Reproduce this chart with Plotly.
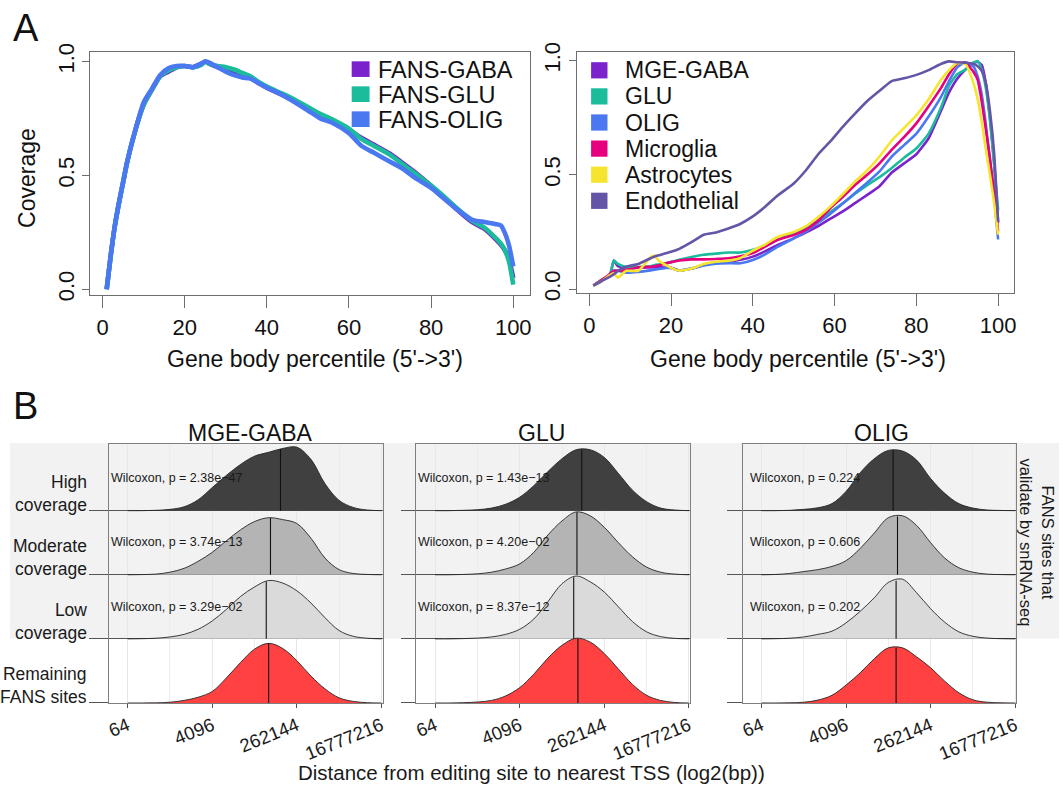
import numpy as np
import plotly.graph_objects as go

W, H = 1063, 797
FONT = "Liberation Sans, Arial, Helvetica, sans-serif"

# ---------------- Panel A, left: FANS gene-body coverage ----------------
PCT_FANS = [1, 2, 3, 4, 5, 6, 8, 10, 12, 14, 16, 18, 20, 22, 24, 25, 26, 28, 30, 32, 34, 36, 38, 40,
            43, 46, 50, 53, 56, 60, 63, 66, 70, 73, 76, 80, 83, 86, 90, 93, 96, 97, 98, 99, 100]
FANS_GABA = [0.00, 0.15, 0.28, 0.38, 0.47, 0.56, 0.70, 0.81, 0.875, 0.935, 0.955, 0.975, 0.98, 0.975, 0.99,
             1.00, 0.99, 0.975, 0.965, 0.955, 0.945, 0.93, 0.905, 0.885,
             0.86, 0.835, 0.795, 0.765, 0.74, 0.70, 0.665, 0.635, 0.595, 0.555, 0.515, 0.455, 0.405, 0.355,
             0.295, 0.265, 0.215, 0.195, 0.17, 0.13, 0.05]
FANS_GLU = [0.00, 0.15, 0.28, 0.38, 0.47, 0.56, 0.70, 0.81, 0.875, 0.935, 0.96, 0.975, 0.98, 0.975, 0.985,
            1.00, 0.99, 0.98, 0.975, 0.965, 0.95, 0.935, 0.91, 0.89,
            0.865, 0.84, 0.80, 0.77, 0.745, 0.705, 0.66, 0.63, 0.59, 0.55, 0.51, 0.455, 0.41, 0.36,
            0.30, 0.27, 0.22, 0.20, 0.17, 0.12, 0.02]
FANS_OLIG = [0.00, 0.15, 0.28, 0.38, 0.47, 0.56, 0.70, 0.82, 0.88, 0.94, 0.97, 0.98, 0.98, 0.975, 0.99,
             1.00, 0.995, 0.975, 0.955, 0.94, 0.93, 0.925, 0.905, 0.885,
             0.86, 0.83, 0.785, 0.75, 0.73, 0.685, 0.63, 0.60, 0.56, 0.53, 0.49, 0.445, 0.40, 0.355,
             0.305, 0.295, 0.285, 0.28, 0.245, 0.19, 0.10]
FANS_NAMES = ["FANS-GABA", "FANS-GLU", "FANS-OLIG"]

# ---------------- Panel A, right: snRNA-seq gene-body coverage ----------------
PCT_SN = [1, 3, 5, 6, 7, 9, 12, 15, 16, 17, 20, 22, 25, 28, 31, 34, 37, 40, 43, 46, 50, 53, 56, 59,
          62, 65, 68, 71, 74, 77, 80, 83, 86, 88, 90, 92, 94, 95, 96, 97, 98, 99, 100]
SN_MGE_GABA = [0.015, 0.04, 0.06, 0.125, 0.10, 0.095, 0.095, 0.095, 0.095, 0.095, 0.093, 0.081, 0.09,
               0.105, 0.117, 0.12, 0.128, 0.142, 0.165, 0.192, 0.222, 0.248, 0.276, 0.308, 0.34, 0.376,
               0.412, 0.45, 0.51, 0.55, 0.59, 0.66, 0.779, 0.86, 0.92, 0.96, 0.99, 0.993, 0.98, 0.90,
               0.75, 0.56, 0.29]
SN_GLU = [0.015, 0.04, 0.06, 0.125, 0.11, 0.097, 0.097, 0.10, 0.105, 0.108, 0.118, 0.128, 0.14, 0.15,
          0.155, 0.16, 0.16, 0.172, 0.192, 0.216, 0.245, 0.27, 0.30, 0.338, 0.375, 0.417, 0.455, 0.49,
          0.53, 0.575, 0.615, 0.68, 0.793, 0.89, 0.94, 0.96, 0.99, 0.997, 0.96, 0.88, 0.74, 0.55, 0.345]
SN_OLIG = [0.015, 0.035, 0.065, 0.08, 0.08, 0.072, 0.075, 0.082, 0.085, 0.088, 0.093, 0.081, 0.09,
           0.103, 0.111, 0.113, 0.113, 0.127, 0.152, 0.185, 0.222, 0.252, 0.29, 0.33, 0.375, 0.42,
           0.466, 0.515, 0.58, 0.63, 0.68, 0.755, 0.84, 0.91, 0.97, 0.992, 0.973, 0.93, 0.85, 0.72,
           0.565, 0.41, 0.217]
SN_MICROGLIA = [0.015, 0.04, 0.065, 0.08, 0.08, 0.083, 0.095, 0.098, 0.10, 0.104, 0.118, 0.125, 0.13,
                0.13, 0.132, 0.135, 0.144, 0.158, 0.186, 0.215, 0.237, 0.26, 0.30, 0.355, 0.403, 0.455,
                0.50, 0.55, 0.61, 0.665, 0.725, 0.80, 0.879, 0.94, 0.986, 0.99, 0.95, 0.915, 0.82, 0.70,
                0.57, 0.42, 0.252]
SN_ASTROCYTES = [0.015, 0.035, 0.06, 0.07, 0.05, 0.08, 0.08, 0.14, 0.145, 0.124, 0.093, 0.081, 0.09,
                 0.11, 0.12, 0.124, 0.136, 0.168, 0.195, 0.228, 0.25, 0.275, 0.315, 0.362, 0.415, 0.47,
                 0.52, 0.58, 0.65, 0.705, 0.76, 0.83, 0.915, 0.958, 0.989, 0.985, 0.90, 0.83, 0.73,
                 0.61, 0.50, 0.38, 0.238]
SN_ENDOTHELIAL = [0.015, 0.035, 0.053, 0.065, 0.08, 0.098, 0.11, 0.135, 0.143, 0.148, 0.163, 0.176,
                  0.205, 0.238, 0.248, 0.265, 0.286, 0.318, 0.36, 0.408, 0.462, 0.52, 0.59, 0.647, 0.71,
                  0.768, 0.823, 0.868, 0.91, 0.922, 0.937, 0.958, 0.985, 0.996, 0.992, 0.99, 0.985,
                  0.975, 0.955, 0.90, 0.78, 0.60, 0.295]
SN_NAMES = ["MGE-GABA", "GLU", "OLIG", "Microglia", "Astrocytes", "Endothelial"]

PURPLE, GREEN, BLUE = "#7a22cc", "#1abc9c", "#4a78f0"
MAGENTA, YELLOW, SLATE = "#e6007e", "#f5e52f", "#6455a6"
FANS_COLORS = [PURPLE, GREEN, BLUE]
SN_COLORS = [PURPLE, GREEN, BLUE, MAGENTA, YELLOW, SLATE]

# ---------------- Panel B: ridgeline densities of log2 distance to TSS ----------------
LOG2_GRID = list(range(6, 25))
LOG2_TICKS = [6, 12, 18, 24]
ROW_LABELS = ["High<br>coverage", "Moderate<br>coverage", "Low<br>coverage", "Remaining<br>FANS sites"]
FACETS = ["MGE-GABA", "GLU", "OLIG"]

MGE_HIGH = [0, 0, 0.005, 0.02, 0.06, 0.17, 0.36, 0.55, 0.72, 0.85, 0.91, 0.97, 0.99, 0.80, 0.42, 0.16, 0.05, 0.01, 0]
MGE_MOD = [0, 0.003, 0.01, 0.04, 0.10, 0.21, 0.35, 0.53, 0.70, 0.83, 0.89, 0.86, 0.80, 0.57, 0.26, 0.08, 0.02, 0.005, 0]
MGE_LOW = [0, 0.003, 0.01, 0.03, 0.07, 0.15, 0.28, 0.46, 0.66, 0.81, 0.91, 0.87, 0.75, 0.56, 0.33, 0.13, 0.04, 0.01, 0]
MGE_REST = [0, 0, 0.002, 0.012, 0.04, 0.09, 0.18, 0.39, 0.63, 0.84, 0.93, 0.85, 0.66, 0.42, 0.22, 0.08, 0.025, 0.005, 0]

GLU_HIGH = [0, 0, 0.005, 0.015, 0.04, 0.10, 0.21, 0.39, 0.61, 0.81, 0.95, 0.95, 0.83, 0.58, 0.32, 0.14, 0.04, 0.01, 0]
GLU_MOD = [0, 0, 0.005, 0.015, 0.04, 0.09, 0.17, 0.35, 0.62, 0.84, 0.98, 0.92, 0.74, 0.50, 0.28, 0.12, 0.04, 0.01, 0]
GLU_LOW = [0, 0, 0.004, 0.012, 0.03, 0.07, 0.15, 0.31, 0.58, 0.86, 0.98, 0.89, 0.73, 0.50, 0.27, 0.11, 0.035, 0.008, 0]
GLU_REST = [0, 0, 0.005, 0.015, 0.04, 0.11, 0.24, 0.45, 0.70, 0.90, 1.01, 0.95, 0.77, 0.53, 0.29, 0.12, 0.04, 0.008, 0]

OLIG_HIGH = [0, 0, 0.005, 0.02, 0.045, 0.11, 0.30, 0.59, 0.81, 0.94, 0.93, 0.79, 0.50, 0.27, 0.11, 0.04, 0.01, 0.003, 0]
OLIG_MOD = [0, 0.005, 0.02, 0.05, 0.08, 0.13, 0.22, 0.41, 0.65, 0.89, 0.92, 0.77, 0.50, 0.26, 0.11, 0.04, 0.01, 0.003, 0]
OLIG_LOW = [0, 0.003, 0.01, 0.03, 0.07, 0.12, 0.25, 0.43, 0.64, 0.88, 0.93, 0.72, 0.47, 0.26, 0.11, 0.04, 0.012, 0.003, 0]
OLIG_REST = [0, 0, 0.003, 0.012, 0.045, 0.12, 0.28, 0.47, 0.69, 0.86, 0.86, 0.72, 0.55, 0.34, 0.16, 0.05, 0.012, 0.003, 0]

# medians (log2 bp) per row: High, Moderate, Low, Remaining
MGE_MEDIANS = [16.84, 16.13, 15.83, 16.0]
GLU_MEDIANS = [16.4, 16.06, 15.83, 16.13]
OLIG_MEDIANS = [15.34, 15.65, 15.55, 15.55]

MGE_PVALS = ["2.38e\u221247", "3.74e\u221213", "3.29e\u221202"]
GLU_PVALS = ["1.43e\u221213", "4.20e\u221202", "8.37e\u221212"]
OLIG_PVALS = ["0.224", "0.606", "0.202"]

RIDGE_FILLS = ["#404040", "#b4b4b4", "#dadada", "#ff4141"]


# ---------------- helpers: pixel positions -> paper fractions ----------------
def fx(x):
    return x / W


def fy(y):
    return 1 - y / H


def dom_x(a, b):
    return [fx(a), fx(b)]


def dom_y(top, bottom):
    return [fy(bottom), fy(top)]


fig = go.Figure()

# Panel A lines
for name, ys, col in zip(FANS_NAMES, [FANS_GABA, FANS_GLU, FANS_OLIG], FANS_COLORS):
    fig.add_trace(go.Scatter(x=PCT_FANS, y=ys, mode="lines", name=name,
                             line=dict(color=col, width=4.6, shape="spline", smoothing=0.6),
                             xaxis="x", yaxis="y", showlegend=False, hoverinfo="skip"))

for name, ys, col in zip(SN_NAMES, [SN_MGE_GABA, SN_GLU, SN_OLIG, SN_MICROGLIA, SN_ASTROCYTES, SN_ENDOTHELIAL],
                         SN_COLORS):
    fig.add_trace(go.Scatter(x=PCT_SN, y=ys, mode="lines", name=name,
                             line=dict(color=col, width=2.6, shape="spline", smoothing=0.5),
                             xaxis="x2", yaxis="y2", showlegend=False, hoverinfo="skip"))

# Panel B ridges
panels = [
    ("x3", "y3", [MGE_HIGH, MGE_MOD, MGE_LOW, MGE_REST], MGE_MEDIANS),
    ("x4", "y4", [GLU_HIGH, GLU_MOD, GLU_LOW, GLU_REST], GLU_MEDIANS),
    ("x5", "y5", [OLIG_HIGH, OLIG_MOD, OLIG_LOW, OLIG_REST], OLIG_MEDIANS),
]
for xa, ya, dens, meds in panels:
    for row, (h, med, fill) in enumerate(zip(dens, meds, RIDGE_FILLS)):
        base = 3 - row
        fig.add_trace(go.Scatter(x=LOG2_GRID, y=[base] * len(LOG2_GRID), mode="lines",
                                 line=dict(width=0, color="rgba(0,0,0,0)"),
                                 xaxis=xa, yaxis=ya, showlegend=False, hoverinfo="skip"))
        fig.add_trace(go.Scatter(x=LOG2_GRID, y=[base + v for v in h], mode="lines",
                                 line=dict(color="#262626", width=0.9, shape="spline", smoothing=1.0),
                                 fill="tonexty", fillcolor=fill,
                                 xaxis=xa, yaxis=ya, showlegend=False, hoverinfo="skip"))
        top = base + float(np.interp(med, LOG2_GRID, h))
        fig.add_trace(go.Scatter(x=[med, med], y=[base, top], mode="lines",
                                 line=dict(color="#111111", width=1.1),
                                 xaxis=xa, yaxis=ya, showlegend=False, hoverinfo="skip"))

# ---------------- axes ----------------
axA_x = dict(range=[-2.96, 103.96], tickmode="array", tickvals=[0, 20, 40, 60, 80, 100],
             ticks="outside", ticklen=12, tickwidth=1, tickcolor="#6e6e6e",
             showline=True, mirror=True, linecolor="#6e6e6e", linewidth=1,
             showgrid=False, zeroline=False, tickfont=dict(family=FONT, size=22, color="#111"))
axA_y = dict(tickmode="array", tickvals=[0, 0.5, 1.0], ticktext=["0.0", "0.5", "1.0"], tickangle=-90,
             ticks="outside", ticklen=7, tickwidth=1, tickcolor="#6e6e6e",
             showline=True, mirror=True, linecolor="#6e6e6e", linewidth=1,
             showgrid=False, zeroline=False, tickfont=dict(family=FONT, size=22, color="#111"))


def axB_x(anchor, a, b):
    return dict(domain=dom_x(a, b), anchor=anchor, range=[4.66, 24.09],
                tickmode="array", tickvals=LOG2_TICKS, ticktext=[str(2 ** v) for v in LOG2_TICKS],
                tickangle=-22, ticks="outside", ticklen=4, tickwidth=1, tickcolor="#4d4d4d",
                tickfont=dict(family=FONT, size=18.5, color="#1a1a1a"),
                showline=True, mirror=True, linecolor="#7f7f7f", linewidth=1,
                showgrid=True, gridcolor="#e7e7e7", gridwidth=1,
                minor=dict(tickmode="array", tickvals=[9, 15, 21], showgrid=True,
                           gridcolor="#ececec", gridwidth=1, ticks=""),
                zeroline=False)


def axB_y(anchor, ticklen):
    return dict(domain=dom_y(444, 709), anchor=anchor, range=[0, 4.04],
                tickmode="array", tickvals=[0, 1, 2, 3], showticklabels=False,
                ticks="outside", ticklen=ticklen, tickwidth=1, tickcolor="#555555",
                showline=True, mirror=True, linecolor="#7f7f7f", linewidth=1,
                showgrid=True, gridcolor="#555555", gridwidth=1, zeroline=False)


B_PANELS_PX = [(106.5, 382.2), (416.0, 691.7), (744.5, 1020.2)]

layout = dict(
    width=W, height=H, margin=dict(l=0, r=0, t=0, b=0),
    paper_bgcolor="white", plot_bgcolor="rgba(0,0,0,0)",
    font=dict(family=FONT, color="#111"),
    xaxis=dict(axA_x, domain=dom_x(88, 530), anchor="y"),
    yaxis=dict(axA_y, domain=dom_y(43, 292), anchor="x", range=[-0.027, 1.0416]),
    xaxis2=dict(axA_x, domain=dom_x(578, 1018), anchor="y2"),
    yaxis2=dict(axA_y, domain=dom_y(43, 290), anchor="x2", range=[-0.019, 1.037]),
    xaxis3=axB_x("y3", *B_PANELS_PX[0]),
    yaxis3=axB_y("x3", 19),
    xaxis4=axB_x("y4", *B_PANELS_PX[1]),
    yaxis4=axB_y("x4", 14),
    xaxis5=axB_x("y5", *B_PANELS_PX[2]),
    yaxis5=axB_y("x5", 15),
)
fig.update_layout(**layout)

shapes = []
annotations = []


def text(x, y, s, size, xanchor="center", yanchor="middle", angle=0, family=FONT, color="#111", align="center"):
    annotations.append(dict(x=fx(x), y=fy(y), xref="paper", yref="paper", text=s, showarrow=False,
                            xanchor=xanchor, yanchor=yanchor, textangle=angle, align=align,
                            font=dict(family=family, size=size, color=color)))


# light band behind the snRNA-validated rows
shapes.append(dict(type="rect", xref="paper", yref="paper", x0=fx(7), x1=1.0, y0=fy(643), y1=fy(443),
                   fillcolor="#f2f2f2", line=dict(width=0), layer="below"))

# panel letters
text(8, 18, "A", 38, xanchor="left")
text(8, 405, "B", 38, xanchor="left")

# Panel A titles
text(24, 172, "Coverage", 23, angle=-90)
text(314, 357, "Gene body percentile (5'->3')", 23)
text(800, 357, "Gene body percentile (5'->3')", 23)

# Panel A legends
for i, (name, col) in enumerate(zip(FANS_NAMES, FANS_COLORS)):
    cy = 60.5 + i * 25.6
    shapes.append(dict(type="rect", xref="paper", yref="paper", x0=fx(351), x1=fx(369),
                       y0=fy(cy + 8), y1=fy(cy - 8), fillcolor=col, line=dict(width=0)))
    text(375, cy + 1, name, 23.5, xanchor="left")
for i, (name, col) in enumerate(zip(SN_NAMES, SN_COLORS)):
    cy = 61.7 + i * 26.7
    shapes.append(dict(type="rect", xref="paper", yref="paper", x0=fx(592), x1=fx(608.5),
                       y0=fy(cy + 8.3), y1=fy(cy - 8.3), fillcolor=col, line=dict(width=0)))
    text(624, cy, name, 23, xanchor="left")

# Panel B facet titles
for name, cx in zip(FACETS, [249, 541.7, 884]):
    text(cx, 433, name, 23)

# Panel B row labels
ROW_BASE_PX = [512.3, 577.7, 643.3, 709.0]
for lab, by in zip(ROW_LABELS, ROW_BASE_PX):
    text(87, by + 6.5, lab, 17.5, xanchor="right", yanchor="bottom", align="right", color="#1a1a1a")

# Wilcoxon p-values
for pvals, x0 in zip([MGE_PVALS, GLU_PVALS, OLIG_PVALS], [106.5, 416.0, 750.0]):
    for pv, by in zip(pvals, ROW_BASE_PX[:3]):
        text(x0, by - 33, "Wilcoxon, p = " + pv, 12.5, xanchor="left", color="#1a1a1a")

# right strip label and shared x title
text(1041, 545, "FANS sites that<br>validate by snRNA-seq", 16.5, angle=90, color="#1a1a1a")
text(532, 780, "Distance from editing site to nearest TSS (log2(bp))", 20.5, color="#1a1a1a")

fig.update_layout(shapes=shapes, annotations=annotations)
fig.write_html("out.html")
